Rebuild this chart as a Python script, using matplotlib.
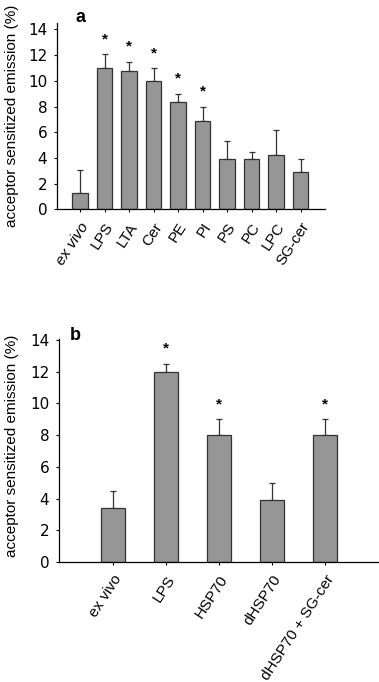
import numpy as np
import matplotlib
matplotlib.use('Agg')
import matplotlib.pyplot as plt

plt.rcParams['font.family'] = ['Liberation Sans', 'DejaVu Sans']

# panel a
cats_a = ['ex vivo', 'LPS', 'LTA', 'Cer', 'PE', 'PI', 'PS', 'PC', 'LPC', 'SG-cer']
vals_a = [1.3, 11.0, 10.8, 10.0, 8.35, 6.9, 3.9, 3.9, 4.2, 2.9]
err_a = [1.8, 1.1, 0.7, 1.0, 0.65, 1.1, 1.4, 0.6, 2.0, 1.0]
sig_a = [False, True, True, True, True, True, False, False, False, False]

# panel b
cats_b = ['ex vivo', 'LPS', 'HSP70', 'dHSP70', 'dHSP70 + SG-cer']
vals_b = [3.4, 12.0, 8.0, 3.9, 8.0]
err_b = [1.1, 0.5, 1.0, 1.1, 1.0]
sig_b = [False, True, True, False, True]

BAR = '#969696'
EDGE = '#333333'

fig = plt.figure(figsize=(3.79, 6.82), dpi=100)
ax_a = fig.add_axes([57/379, 1 - 209.5/682, 268/379, 186.5/682])
ax_b = fig.add_axes([59/379, 120/682, 319/379, 223/682])


def draw(ax, cats, vals, errs, sig, width, ylim, xlim, star_off, italic_first):
    x = np.arange(len(cats))
    ax.bar(x, vals, width, color=BAR, edgecolor=EDGE, linewidth=0.9, zorder=2)
    ax.errorbar(x, vals, yerr=[np.zeros(len(vals)), errs], fmt='none',
                ecolor=EDGE, elinewidth=0.9, capsize=2.5, capthick=0.9, zorder=1)
    for xi, v, e, s in zip(x, vals, errs, sig):
        if s:
            ax.text(xi, v + e + star_off, '*', ha='center', va='center',
                    fontsize=11, fontweight='bold')
    ax.set_xlim(*xlim)
    ax.set_ylim(*ylim)
    ax.set_yticks(range(0, 15, 2))
    ax.set_xticks(x)
    ax.set_xticklabels(cats, rotation=57, ha='right', rotation_mode='anchor', fontsize=11)
    if italic_first:
        ax.get_xticklabels()[0].set_fontstyle('italic')
    for t in ax.get_yticklabels():
        t.set_fontfamily('DejaVu Sans')
    ax.tick_params(axis='y', labelsize=11, length=2.5, width=0.8, pad=4.5)
    ax.tick_params(axis='x', length=2.5, width=0.8, pad=5)
    ax.spines[['top', 'right']].set_visible(False)
    ax.spines['left'].set_linewidth(0.9)
    ax.spines['bottom'].set_linewidth(0.9)
    ax.set_ylabel('acceptor sensitized emission (%)', fontsize=11)


draw(ax_a, cats_a, vals_a, err_a, sig_a, 0.65, (0, 14.5), (-0.94, 10.0), 1.15, True)
ax_a.yaxis.set_label_coords(-0.142, 0.5)
ax_a.text(80/379, 1 - 17/682, 'a', transform=fig.transFigure, fontsize=13,
          fontweight='bold', ha='center', va='center')

draw(ax_b, cats_b, vals_b, err_b, sig_b, 0.44, (0, 14.05), (-1.02, 5.0), 0.95, False)
ax_b.yaxis.set_label_coords(-0.125, 0.52)
ax_b.text(75/379, 1 - 335/682, 'b', transform=fig.transFigure, fontsize=13,
          fontweight='bold', ha='center', va='center')

fig.savefig('out.png', dpi=100)
